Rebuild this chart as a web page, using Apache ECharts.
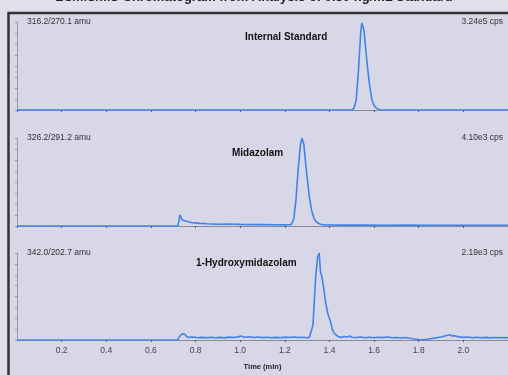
<!DOCTYPE html>
<html>
<head>
<meta charset="utf-8">
<script src="https://cdn.jsdelivr.net/npm/echarts@6/dist/echarts.min.js"></script>
<style>
  html, body { margin: 0; padding: 0; background: #e0e0ec; }
  #main { width: 508px; height: 375px; }
</style>
</head>
<body>
<div id="main"></div>
<script>
// transition labels and peak names, one per panel
var transitions = ['316.2/270.1 amu', '326.2/291.2 amu', '342.0/202.7 amu'];
var maxCounts = ['3.24e5 cps', '4.10e3 cps', '2.19e3 cps'];
var compounds = ['Internal Standard', 'Midazolam', '1-Hydroxymidazolam'];
var xTicks = ['0.2', '0.4', '0.6', '0.8', '1.0', '1.2', '1.4', '1.6', '1.8', '2.0'];

// [time (min), % of max intensity]
var internalStd = [
  [0, 0], [1.50, 0], [1.51, 2], [1.52, 12], [1.53, 45], [1.54, 88], [1.545, 99],
  [1.55, 95], [1.555, 90], [1.56, 75], [1.57, 50], [1.58, 28], [1.59, 12],
  [1.60, 5], [1.61, 2], [1.62, 1], [1.63, 0], [2.2, 0]
];
var midazolam = [
  [0, 0], [0.72, 0], [0.725, 5], [0.73, 12.5], [0.735, 10], [0.74, 7], [0.745, 5],
  [0.75, 6], [0.757, 7], [0.765, 5], [0.78, 4], [0.80, 3.5], [0.82, 3], [0.85, 2.5],
  [0.90, 2], [0.95, 2.2], [1.00, 1.8], [1.05, 1.6], [1.10, 1.7], [1.15, 1.5],
  [1.20, 1.3], [1.22, 1.5], [1.23, 2], [1.24, 8], [1.25, 30], [1.26, 65], [1.27, 92],
  [1.277, 100], [1.285, 93], [1.29, 80], [1.30, 55], [1.31, 33], [1.32, 18],
  [1.33, 9], [1.34, 5], [1.35, 3], [1.36, 2], [1.38, 1.2], [1.45, 1], [1.55, 1],
  [1.65, 0.8], [1.75, 1], [1.85, 0.8], [1.95, 0.9], [2.05, 0.8], [2.2, 0.8]
];
var hydroxy = [
  [0, 0], [0.72, 0], [0.728, 4], [0.738, 7], [0.745, 6], [0.752, 6.5], [0.76, 4],
  [0.77, 3], [0.79, 3.5], [0.81, 2.5], [0.83, 3], [0.85, 2.5], [0.87, 3.2], [0.89, 2.6],
  [0.91, 3], [0.93, 2.4], [0.95, 3.3], [0.97, 2.8], [0.99, 3.6], [1.004, 4.5],
  [1.02, 3.2], [1.04, 3.8], [1.06, 2.9], [1.08, 3.4], [1.10, 2.7], [1.12, 3.1],
  [1.14, 2.5], [1.16, 3.0], [1.18, 2.6], [1.20, 3.3], [1.22, 2.8], [1.24, 3.5],
  [1.26, 2.9], [1.28, 3.2], [1.30, 2.5], [1.31, 3], [1.315, 4], [1.326, 17],
  [1.338, 71], [1.347, 96], [1.354, 100], [1.36, 78], [1.367, 72], [1.374, 60],
  [1.383, 43], [1.394, 29], [1.405, 21], [1.414, 11], [1.424, 7], [1.439, 4],
  [1.45, 3], [1.465, 4], [1.48, 3.5], [1.49, 4.5], [1.50, 3.2], [1.52, 2.8],
  [1.54, 3.4], [1.56, 2.6], [1.58, 3.1], [1.60, 2.5], [1.62, 3.2], [1.64, 2.7],
  [1.66, 3.4], [1.68, 2.6], [1.70, 2.9], [1.72, 2.3], [1.74, 2.8], [1.76, 2.0],
  [1.78, 1.2], [1.80, 0.5], [1.82, 0.3], [1.84, 0.8], [1.86, 1.8], [1.88, 2.6],
  [1.90, 3.4], [1.92, 4.8], [1.94, 6], [1.95, 4.5], [1.96, 5], [1.98, 3.6],
  [2.00, 3], [2.02, 3.5], [2.04, 2.6], [2.06, 3.1], [2.08, 2.5], [2.10, 3.0],
  [2.12, 2.4], [2.14, 2.9], [2.16, 2.5], [2.18, 2.8], [2.20, 2.6]
];
var traces = [internalStd, midazolam, hydroxy];

var panelTop = [22, 138, 253];
var panelHeight = [88, 88, 87];
var labelTop = [17, 133, 248];
var nameTop = [32, 148, 258];
var nameLeft = [245, 232, 196];

var chart = echarts.init(document.getElementById('main'), null, { renderer: 'canvas' });

var grids = [], xAxes = [], yAxes = [], series = [], titles = [];
for (var i = 0; i < 3; i++) {
  var last = i === 2;
  grids.push({ left: 17, right: 0, top: panelTop[i], height: panelHeight[i] });
  xAxes.push({
    type: 'value', gridIndex: i, min: 0, max: 2.2, interval: 0.2,
    axisLine: { lineStyle: { color: '#8a8a96', width: 1 } },
    axisTick: { length: 2, lineStyle: { color: '#555' } },
    splitLine: { show: false },
    axisLabel: {
      show: last, fontSize: 8.5, color: '#444', margin: 6,
      showMinLabel: false, showMaxLabel: false,
      formatter: function (v) {
        var s = v.toFixed(1);
        return xTicks.indexOf(s) >= 0 ? s : '';
      }
    },
    name: last ? 'Time (min)' : '',
    nameLocation: 'middle', nameGap: 23,
    nameTextStyle: { fontSize: 7.5, fontWeight: 'bold', color: '#222' }
  });
  yAxes.push({
    type: 'value', gridIndex: i, min: 0, max: 100, interval: 12.5,
    axisLine: { show: true, lineStyle: { color: '#9a9aa6', width: 1 } },
    axisTick: { show: true, length: 2, lineStyle: { color: '#9a9aa6' } },
    axisLabel: { show: false },
    splitLine: { show: false }
  });
  series.push({
    type: 'line', xAxisIndex: i, yAxisIndex: i, data: traces[i],
    showSymbol: false, symbol: 'none', smooth: false,
    lineStyle: { color: '#3f84ec', width: 1.6 },
    z: 3
  });
  titles.push({
    text: transitions[i], left: 27, top: labelTop[i], padding: 0,
    textStyle: { fontSize: 8.5, fontWeight: 'normal', color: '#333' }
  });
  titles.push({
    text: maxCounts[i], right: 5, top: labelTop[i], padding: 0,
    textStyle: { fontSize: 8.5, fontWeight: 'normal', color: '#333' }
  });
  titles.push({
    text: compounds[i], left: nameLeft[i], top: nameTop[i], padding: 0,
    textStyle: { fontSize: 10, fontWeight: 'bold', color: '#111' }
  });
}

chart.setOption({
  backgroundColor: '#e0e0ec',
  animation: false,
  title: titles,
  grid: grids,
  xAxis: xAxes,
  yAxis: yAxes,
  series: series,
  graphic: [
    {
      type: 'rect', z: -10, silent: true,
      shape: { x: 8, y: 13, width: 500, height: 362 },
      style: { fill: '#d7d7e7' }
    },
    {
      type: 'polyline', z: 10, silent: true,
      shape: { points: [[8.5, 375], [8.5, 13], [508, 13]] },
      style: { stroke: '#333', lineWidth: 2.5, fill: null }
    },
    {
      type: 'text', z: 10, silent: true, left: 'center', top: -9,
      style: {
        text: 'LC/MS/MS Chromatogram from Analysis of 0.50 ng/mL Standard',
        fontSize: 13, fontWeight: 'bold', fill: '#222'
      }
    }
  ]
});
</script>
</body>
</html>
